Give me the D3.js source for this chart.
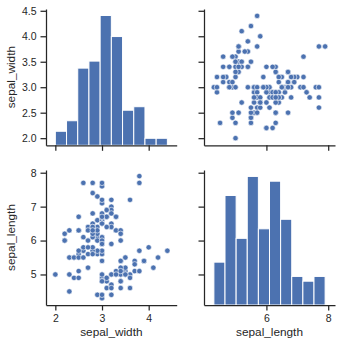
<!DOCTYPE html>
<html>
<head>
<meta charset="utf-8">
<script src="https://cdn.jsdelivr.net/npm/d3@7"></script>
<style>
  body { margin: 0; background: white; }
  svg { display: block; }
</style>
</head>
<body>
<div id="chart"></div>
<script>
// size of the whole figure
var svgWidth = 340;
var svgHeight = 346;

// iris measurements (cm), one entry per flower
var sepalLength = [
  5.1, 4.9, 4.7, 4.6, 5.0, 5.4, 4.6, 5.0, 4.4, 4.9, 5.4, 4.8, 4.8, 4.3, 5.8, 5.7, 5.4, 5.1, 5.7, 5.1,
  5.4, 5.1, 4.6, 5.1, 4.8, 5.0, 5.0, 5.2, 5.2, 4.7, 4.8, 5.4, 5.2, 5.5, 4.9, 5.0, 5.5, 4.9, 4.4, 5.1,
  5.0, 4.5, 4.4, 5.0, 5.1, 4.8, 5.1, 4.6, 5.3, 5.0,
  7.0, 6.4, 6.9, 5.5, 6.5, 5.7, 6.3, 4.9, 6.6, 5.2, 5.0, 5.9, 6.0, 6.1, 5.6, 6.7, 5.6, 5.8, 6.2, 5.6,
  5.9, 6.1, 6.3, 6.1, 6.4, 6.6, 6.8, 6.7, 6.0, 5.7, 5.5, 5.5, 5.8, 6.0, 5.4, 6.0, 6.7, 6.3, 5.6, 5.5,
  5.5, 6.1, 5.8, 5.0, 5.6, 5.7, 5.7, 6.2, 5.1, 5.7,
  6.3, 5.8, 7.1, 6.3, 6.5, 7.6, 4.9, 7.3, 6.7, 7.2, 6.5, 6.4, 6.8, 5.7, 5.8, 6.4, 6.5, 7.7, 7.7, 6.0,
  6.9, 5.6, 7.7, 6.3, 6.7, 7.2, 6.2, 6.1, 6.4, 7.2, 7.4, 7.9, 6.4, 6.3, 6.1, 7.7, 6.3, 6.4, 6.0, 6.9,
  6.7, 6.9, 5.8, 6.8, 6.7, 6.7, 6.3, 6.5, 6.2, 5.9
];
var sepalWidth = [
  3.5, 3.0, 3.2, 3.1, 3.6, 3.9, 3.4, 3.4, 2.9, 3.1, 3.7, 3.4, 3.0, 3.0, 4.0, 4.4, 3.9, 3.5, 3.8, 3.8,
  3.4, 3.7, 3.6, 3.3, 3.4, 3.0, 3.4, 3.5, 3.4, 3.2, 3.1, 3.4, 4.1, 4.2, 3.1, 3.2, 3.5, 3.6, 3.0, 3.4,
  3.5, 2.3, 3.2, 3.5, 3.8, 3.0, 3.8, 3.2, 3.7, 3.3,
  3.2, 3.2, 3.1, 2.3, 2.8, 2.8, 3.3, 2.4, 2.9, 2.7, 2.0, 3.0, 2.2, 2.9, 2.9, 3.1, 3.0, 2.7, 2.2, 2.5,
  3.2, 2.8, 2.5, 2.8, 2.9, 3.0, 2.8, 3.0, 2.9, 2.6, 2.4, 2.4, 2.7, 2.7, 3.0, 3.4, 3.1, 2.3, 3.0, 2.5,
  2.6, 3.0, 2.6, 2.3, 2.7, 3.0, 2.9, 2.9, 2.5, 2.8,
  3.3, 2.7, 3.0, 2.9, 3.0, 3.0, 2.5, 2.9, 2.5, 3.6, 3.2, 2.7, 3.0, 2.5, 2.8, 3.2, 3.0, 3.8, 2.6, 2.2,
  3.2, 2.8, 2.8, 2.7, 3.3, 3.2, 2.8, 3.0, 2.8, 3.0, 2.8, 3.8, 2.8, 2.8, 2.6, 3.0, 3.4, 3.1, 3.0, 3.1,
  3.1, 3.1, 2.7, 3.2, 3.3, 3.0, 2.5, 3.0, 3.4, 3.0
];

// histogram bins for the diagonal panels
var widthBinEdges = [2.0, 2.24, 2.48, 2.72, 2.96, 3.2, 3.44, 3.68, 3.92, 4.16, 4.4];
var widthCounts = [4, 7, 22, 24, 37, 31, 10, 11, 2, 2];
var lengthBinEdges = [4.3, 4.66, 5.02, 5.38, 5.74, 6.1, 6.46, 6.82, 7.18, 7.54, 7.9];
var lengthCounts = [9, 23, 14, 27, 16, 26, 18, 6, 5, 6];

// tick values
var widthTicksY = [2.0, 2.5, 3.0, 3.5, 4.0, 4.5];
var widthTicksX = [2, 3, 4];
var lengthTicksY = [5, 6, 7, 8];
var lengthTicksX = [6, 8];

// panel edges in pixels
var colLeft = { x0: 46, x1: 176.7 };
var colRight = { x0: 204, x1: 335 };
var rowTop = { y0: 9, y1: 145.3 };
var rowBottom = { y0: 170, y1: 305 };

var blue = "#4c72b0";
var ink = "#262626";
var fontFamily = "'Liberation Sans', Arial, sans-serif";

var svg = d3
  .select("#chart")
  .append("svg")
  .attr("width", svgWidth)
  .attr("height", svgHeight);

// shared scales for each variable
var widthX = d3.scaleLinear().domain([1.8, 4.6]).range([colLeft.x0, colLeft.x1]);
var lengthX = d3.scaleLinear().domain([3.98, 8.22]).range([colRight.x0, colRight.x1]);
var widthY = d3.scaleLinear().domain([1.86, 4.535]).range([rowTop.y1, rowTop.y0]);
var lengthY = d3.scaleLinear().domain([4.1, 8.08]).range([rowBottom.y1, rowBottom.y0]);

// count scales for the histograms
var widthCountY = d3.scaleLinear()
  .domain([0, d3.max(widthCounts) * 1.05])
  .range([rowTop.y1, rowTop.y0]);
var lengthCountY = d3.scaleLinear()
  .domain([0, d3.max(lengthCounts) * 1.05])
  .range([rowBottom.y1, rowBottom.y0]);

// histogram on a diagonal panel
function drawHist(edges, counts, xScale, yScale) {
  svg.append("g")
    .selectAll("rect")
    .data(counts)
    .enter()
    .append("rect")
    .attr("x", (d, i) => xScale(edges[i]))
    .attr("width", (d, i) => xScale(edges[i + 1]) - xScale(edges[i]))
    .attr("y", d => yScale(d))
    .attr("height", d => yScale(0) - yScale(d))
    .attr("fill", blue)
    .attr("stroke", "white")
    .attr("stroke-width", 1);
}

// scatter on an off-diagonal panel
function drawScatter(xs, ys, xScale, yScale) {
  svg.append("g")
    .selectAll("circle")
    .data(xs)
    .enter()
    .append("circle")
    .attr("cx", (d, i) => xScale(d))
    .attr("cy", (d, i) => yScale(ys[i]))
    .attr("r", 2.7)
    .attr("fill", blue)
    .attr("stroke", "white")
    .attr("stroke-width", 0.6);
}

// left / bottom spine with ticks, labels optional
function drawAxis(axis, translate, showLabels, fmt) {
  axis.tickSizeInner(5.5).tickSizeOuter(0);
  if (showLabels) {
    axis.tickFormat(fmt);
  } else {
    axis.tickFormat("");
  }
  var g = svg.append("g")
    .attr("transform", translate)
    .call(axis);
  g.selectAll("path, line")
    .attr("stroke", ink)
    .attr("stroke-width", 1.25);
  g.selectAll("text")
    .attr("fill", ink)
    .attr("font-family", fontFamily)
    .attr("font-size", 10.5);
  return g;
}

drawHist(widthBinEdges, widthCounts, widthX, widthCountY);
drawHist(lengthBinEdges, lengthCounts, lengthX, lengthCountY);
drawScatter(sepalLength, sepalWidth, lengthX, widthY);
drawScatter(sepalWidth, sepalLength, widthX, lengthY);

// y axes
drawAxis(d3.axisLeft(widthY).tickValues(widthTicksY).tickPadding(4),
  `translate(${colLeft.x0},0)`, true, d3.format(".1f"));
drawAxis(d3.axisLeft(widthY).tickValues(widthTicksY),
  `translate(${colRight.x0},0)`, false);
drawAxis(d3.axisLeft(lengthY).tickValues(lengthTicksY).tickPadding(4),
  `translate(${colLeft.x0},0)`, true, d3.format("d"));
drawAxis(d3.axisLeft(lengthY).tickValues(lengthTicksY),
  `translate(${colRight.x0},0)`, false);

// x axes
drawAxis(d3.axisBottom(widthX).tickValues(widthTicksX),
  `translate(0,${rowTop.y1})`, false);
drawAxis(d3.axisBottom(lengthX).tickValues(lengthTicksX),
  `translate(0,${rowTop.y1})`, false);
drawAxis(d3.axisBottom(widthX).tickValues(widthTicksX).tickPadding(4.5),
  `translate(0,${rowBottom.y1})`, true, d3.format("d"));
drawAxis(d3.axisBottom(lengthX).tickValues(lengthTicksX).tickPadding(4.5),
  `translate(0,${rowBottom.y1})`, true, d3.format("d"));

// axis titles
function axisTitle(text, x, y, rotate) {
  svg.append("text")
    .attr("transform", `translate(${x},${y})` + (rotate ? " rotate(-90)" : ""))
    .attr("text-anchor", "middle")
    .attr("fill", ink)
    .attr("font-family", fontFamily)
    .attr("font-size", 11.8)
    .text(text);
}

axisTitle("sepal_width", 14.5, (rowTop.y0 + rowTop.y1) / 2, true);
axisTitle("sepal_length", 14.5, (rowBottom.y0 + rowBottom.y1) / 2, true);
axisTitle("sepal_width", (colLeft.x0 + colLeft.x1) / 2, 336, false);
axisTitle("sepal_length", (colRight.x0 + colRight.x1) / 2, 336, false);
</script>
</body>
</html>
